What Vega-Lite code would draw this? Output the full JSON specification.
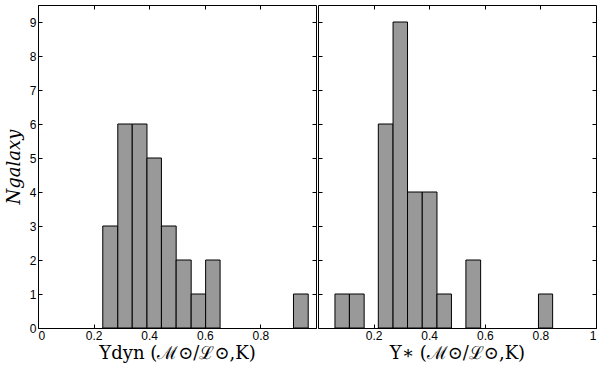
{
  "$schema": "https://vega.github.io/schema/vega-lite/v6.json",
  "padding": {"left": 4, "top": 4, "right": 2, "bottom": 0},
  "spacing": 0,
  "background": "white",
  "datasets": {
    "dyn": [
      {"x0": 0.233, "x1": 0.287, "n": 3},
      {"x0": 0.287, "x1": 0.339, "n": 6},
      {"x0": 0.339, "x1": 0.392, "n": 6},
      {"x0": 0.392, "x1": 0.444, "n": 5},
      {"x0": 0.444, "x1": 0.497, "n": 3},
      {"x0": 0.497, "x1": 0.551, "n": 2},
      {"x0": 0.551, "x1": 0.603, "n": 1},
      {"x0": 0.603, "x1": 0.655, "n": 2},
      {"x0": 0.919, "x1": 0.972, "n": 1}
    ],
    "star": [
      {"x0": 0.061, "x1": 0.113, "n": 1},
      {"x0": 0.113, "x1": 0.166, "n": 1},
      {"x0": 0.217, "x1": 0.270, "n": 6},
      {"x0": 0.270, "x1": 0.322, "n": 9},
      {"x0": 0.322, "x1": 0.375, "n": 4},
      {"x0": 0.375, "x1": 0.428, "n": 4},
      {"x0": 0.428, "x1": 0.480, "n": 1},
      {"x0": 0.532, "x1": 0.585, "n": 2},
      {"x0": 0.793, "x1": 0.844, "n": 1}
    ]
  },
  "config": {
    "view": {"stroke": "#000000", "strokeWidth": 1},
    "axis": {
      "domain": false,
      "grid": false,
      "tickColor": "#000000",
      "tickSize": -4,
      "labelColor": "#000000",
      "labelFont": "Liberation Sans",
      "labelFontSize": 12,
      "titleColor": "#000000",
      "titleFont": "DejaVu Serif",
      "titleFontWeight": "normal",
      "titleFontSize": 18
    }
  },
  "hconcat": [
    {
      "width": 278,
      "height": 323,
      "data": {"name": "dyn"},
      "layer": [
        {
          "mark": {"type": "bar", "fill": "#999999", "stroke": "#000000", "strokeWidth": 1},
          "encoding": {
            "x": {"field": "x0", "type": "quantitative", "scale": {"domain": [0, 1], "nice": false},
                  "axis": {"values": [0, 0.2, 0.4, 0.6, 0.8], "format": "~g", "labelPadding": 6, "title": "Υ̅dyn (ℳ⊙/ℒ⊙,K)", "titlePadding": 3}},
            "x2": {"field": "x1"},
            "y": {"field": "n", "type": "quantitative", "scale": {"domain": [0, 9.5], "nice": false},
                  "axis": {"values": [0,1,2,3,4,5,6,7,8,9], "labelPadding": 6, "title": "Ngalaxy", "titleFontStyle": "italic", "titlePadding": 6}},
            "y2": {"datum": 0}
          }
        },
        {
          "mark": {"type": "bar", "opacity": 0},
          "encoding": {
            "x": {"field": "x0", "type": "quantitative", "axis": {"orient": "top", "values": [0, 0.2, 0.4, 0.6, 0.8], "labels": false, "title": null}},
            "x2": {"field": "x1"},
            "y": {"field": "n", "type": "quantitative", "axis": {"orient": "right", "values": [0,1,2,3,4,5,6,7,8,9], "labels": false, "title": null}},
            "y2": {"datum": 0}
          }
        }
      ],
      "resolve": {"axis": {"x": "independent", "y": "independent"}}
    },
    {
      "width": 278,
      "height": 323,
      "data": {"name": "star"},
      "layer": [
        {
          "mark": {"type": "bar", "fill": "#999999", "stroke": "#000000", "strokeWidth": 1},
          "encoding": {
            "x": {"field": "x0", "type": "quantitative", "scale": {"domain": [0, 1], "nice": false},
                  "axis": {"values": [0.2, 0.4, 0.6, 0.8, 1], "format": "~g", "labelPadding": 6, "title": "Υ̅∗ (ℳ⊙/ℒ⊙,K)", "titlePadding": 3}},
            "x2": {"field": "x1"},
            "y": {"field": "n", "type": "quantitative", "scale": {"domain": [0, 9.5], "nice": false},
                  "axis": {"values": [0,1,2,3,4,5,6,7,8,9], "labels": false, "title": null}},
            "y2": {"datum": 0}
          }
        },
        {
          "mark": {"type": "bar", "opacity": 0},
          "encoding": {
            "x": {"field": "x0", "type": "quantitative", "axis": {"orient": "top", "values": [0.2, 0.4, 0.6, 0.8], "labels": false, "title": null}},
            "x2": {"field": "x1"},
            "y": {"field": "n", "type": "quantitative", "axis": {"orient": "right", "values": [0,1,2,3,4,5,6,7,8,9], "labels": false, "title": null}},
            "y2": {"datum": 0}
          }
        }
      ],
      "resolve": {"axis": {"x": "independent", "y": "independent"}}
    }
  ]
}
